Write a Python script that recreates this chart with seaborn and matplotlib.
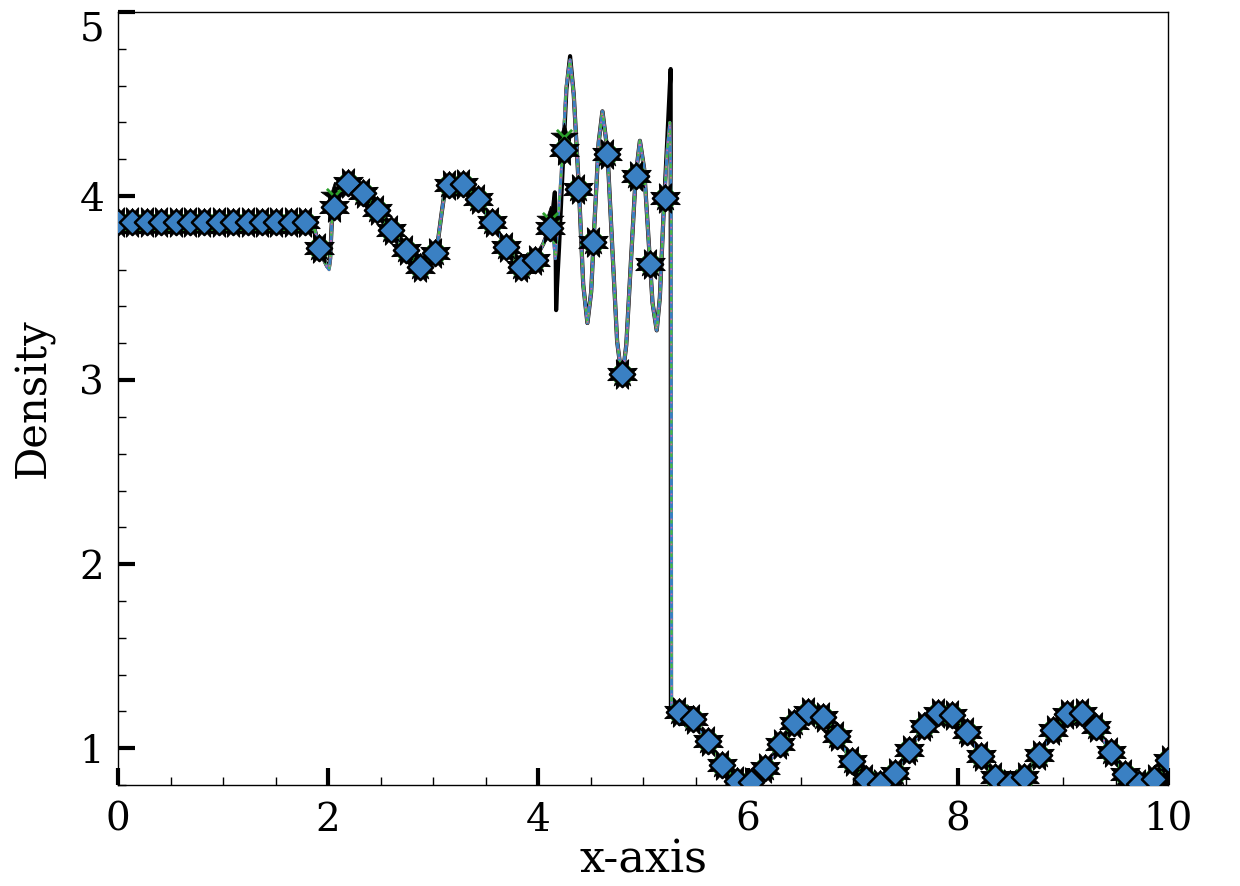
import numpy as np
import pandas as pd
import seaborn as sns
import matplotlib.pyplot as plt
from matplotlib.ticker import MultipleLocator

# reference solution (fine grid)
ref_x = [0.0, 1.80, 1.86, 1.918, 1.96, 1.99, 2.008, 2.02, 2.035, 2.055, 2.09, 2.14, 2.192, 2.25,
         2.329, 2.466, 2.603, 2.74, 2.877, 2.95, 3.014, 3.05, 3.08, 3.11, 3.151, 3.22, 3.288,
         3.425, 3.562, 3.699, 3.836, 3.90, 3.973, 4.05, 4.11, 4.14, 4.16, 4.165, 4.172, 4.18,
         4.20, 4.24, 4.27, 4.305, 4.34, 4.39, 4.43, 4.47, 4.506, 4.54, 4.577, 4.613, 4.66,
         4.706, 4.753, 4.80, 4.84, 4.885, 4.93, 4.97, 5.01, 5.05, 5.09, 5.13, 5.16, 5.195,
         5.23, 5.255, 5.263, 5.265, 5.333, 5.479, 5.616, 5.753, 5.89, 5.96, 6.027, 6.164,
         6.301, 6.438, 6.59, 6.712, 6.849, 6.986, 7.123, 7.22, 7.397, 7.534, 7.671, 7.85,
         7.945, 8.082, 8.219, 8.356, 8.48, 8.63, 8.767, 8.904, 9.041, 9.11, 9.178, 9.315,
         9.452, 9.589, 9.74, 9.863, 10.0]
ref_y = [3.857, 3.857, 3.845, 3.72, 3.655, 3.62, 3.61, 3.66, 3.85, 3.95, 4.02, 4.065, 4.078, 4.06,
         4.018, 3.924, 3.815, 3.707, 3.618, 3.625, 3.69, 3.77, 3.90, 4.02, 4.062, 4.078, 4.065,
         3.982, 3.86, 3.724, 3.616, 3.625, 3.66, 3.74, 3.83, 3.92, 4.02, 3.90, 3.38, 3.50,
         3.72, 4.22, 4.58, 4.76, 4.55, 4.03, 3.52, 3.31, 3.48, 3.885, 4.29, 4.46, 4.25,
         3.73, 3.21, 3.00, 3.19, 3.65, 4.11, 4.30, 4.15, 3.785, 3.42, 3.27, 3.45, 3.90,
         4.30, 4.60, 4.69, 1.20, 1.20, 1.156, 1.04, 0.908, 0.822, 0.80, 0.812, 0.89,
         1.022, 1.138, 1.20, 1.17, 1.065, 0.931, 0.83, 0.80, 0.866, 0.99, 1.12, 1.20,
         1.18, 1.089, 0.957, 0.844, 0.80, 0.844, 0.962, 1.098, 1.185, 1.20, 1.189, 1.116,
         0.98, 0.862, 0.80, 0.835, 0.935]

# scheme solution line (no spikes at 4.16 and 5.26)
sch_x = [0.0, 1.80, 1.86, 1.918, 1.96, 1.99, 2.01, 2.022, 2.035, 2.055, 2.09, 2.14, 2.192, 2.25,
         2.329, 2.466, 2.603, 2.74, 2.877, 2.95, 3.014, 3.05, 3.08, 3.11, 3.151, 3.22, 3.288,
         3.425, 3.562, 3.699, 3.836, 3.90, 3.973, 4.05, 4.11, 4.14, 4.165, 4.20, 4.24, 4.27,
         4.305, 4.34, 4.39, 4.43, 4.47, 4.506, 4.54, 4.577, 4.613, 4.66, 4.706, 4.753, 4.80,
         4.84, 4.885, 4.93, 4.97, 5.01, 5.05, 5.09, 5.13, 5.16, 5.195, 5.23, 5.255, 5.268,
         5.272, 5.333, 5.479, 5.616, 5.753, 5.89, 5.96, 6.027, 6.164, 6.301, 6.438, 6.59,
         6.712, 6.849, 6.986, 7.123, 7.22, 7.397, 7.534, 7.671, 7.85, 7.945, 8.082, 8.219,
         8.356, 8.48, 8.63, 8.767, 8.904, 9.041, 9.11, 9.178, 9.315, 9.452, 9.589, 9.74,
         9.863, 10.0]
sch_y = [3.857, 3.857, 3.845, 3.72, 3.655, 3.615, 3.60, 3.66, 3.85, 3.95, 4.02, 4.065, 4.078, 4.06,
         4.018, 3.924, 3.815, 3.707, 3.618, 3.625, 3.69, 3.77, 3.90, 4.02, 4.062, 4.078, 4.065,
         3.982, 3.86, 3.724, 3.616, 3.625, 3.66, 3.74, 3.83, 3.80, 3.66, 3.95, 4.30, 4.60,
         4.74, 4.55, 4.03, 3.52, 3.31, 3.48, 3.885, 4.29, 4.46, 4.25, 3.73, 3.21, 3.00,
         3.19, 3.65, 4.11, 4.30, 4.15, 3.785, 3.42, 3.27, 3.45, 3.90, 4.25, 4.40, 4.00,
         1.20, 1.20, 1.156, 1.04, 0.908, 0.822, 0.80, 0.812, 0.89, 1.022, 1.138, 1.20,
         1.17, 1.065, 0.931, 0.83, 0.80, 0.866, 0.99, 1.12, 1.20, 1.18, 1.089, 0.957,
         0.844, 0.80, 0.844, 0.962, 1.098, 1.185, 1.20, 1.189, 1.116, 0.98, 0.862, 0.80,
         0.835, 0.935]

# coarse-grid scheme values shown with markers
mk_x = [0.000, 0.137, 0.274, 0.411, 0.548, 0.685, 0.822, 0.959, 1.096, 1.233, 1.370, 1.507,
        1.644, 1.781, 1.918, 2.055, 2.192, 2.329, 2.466, 2.603, 2.740, 2.877, 3.014, 3.151,
        3.288, 3.425, 3.562, 3.699, 3.836, 3.973, 4.110, 4.247, 4.384, 4.521, 4.658, 4.795,
        4.932, 5.068, 5.205, 5.342, 5.479, 5.616, 5.753, 5.890, 6.027, 6.164, 6.301, 6.438,
        6.575, 6.712, 6.849, 6.986, 7.123, 7.260, 7.397, 7.534, 7.671, 7.808, 7.945, 8.082,
        8.219, 8.356, 8.493, 8.630, 8.767, 8.904, 9.041, 9.178, 9.315, 9.452, 9.589, 9.726,
        9.863, 10.000]
mk_y = [3.857, 3.857, 3.857, 3.857, 3.857, 3.857, 3.857, 3.857, 3.857, 3.857, 3.857, 3.857,
        3.857, 3.857, 3.717, 3.94, 4.072, 4.018, 3.924, 3.815, 3.707, 3.616, 3.692, 4.062,
        4.065, 3.982, 3.86, 3.724, 3.616, 3.655, 3.824, 4.25, 4.04, 3.752, 4.23, 3.035,
        4.11, 3.63, 3.988, 1.199, 1.156, 1.04, 0.908, 0.822, 0.817, 0.89, 1.022, 1.138,
        1.197, 1.17, 1.065, 0.931, 0.83, 0.808, 0.866, 0.991, 1.12, 1.192, 1.179, 1.089,
        0.957, 0.844, 0.804, 0.844, 0.962, 1.098, 1.185, 1.189, 1.116, 0.98, 0.862, 0.808,
        0.835, 0.935]
# other schemes' markers (same points, a bit higher in the oscillatory zone)
mk2_y = list(mk_y)
mk2_y[31] = 4.32
mk2_y[30] = 3.87
mk2_y[15] = 4.0

ref = pd.DataFrame({'x': ref_x, 'y': ref_y})
sch = pd.DataFrame({'x': sch_x, 'y': sch_y})
mk = pd.DataFrame({'x': mk_x, 'y': mk_y, 'y2': mk2_y})

plt.rcParams['font.family'] = ['DejaVu Serif']
fig = plt.figure(figsize=(12.4, 8.86), dpi=100)
ax = fig.add_axes([0.0952, 0.114, 0.8468, 0.8725])

sns.lineplot(data=ref, x='x', y='y', sort=False, estimator=None, color='black', lw=3, ax=ax)
sns.lineplot(data=sch, x='x', y='y', sort=False, estimator=None, color='#e8702a', lw=2.2, ax=ax)
sns.lineplot(data=sch, x='x', y='y', sort=False, estimator=None, color='#3a80c3', lw=2.2, ax=ax)
sns.lineplot(data=sch, x='x', y='y', sort=False, estimator=None, color='#4cbb3c', lw=1.6,
             linestyle=(0, (2, 3)), ax=ax)
sns.lineplot(data=sch, x='x', y='y', sort=False, estimator=None, color='#d663a8', lw=1.2,
             linestyle=(2, (1, 4)), ax=ax)

# spiky black halo from the other schemes' star / cross markers
sns.scatterplot(data=mk, x='x', y='y', marker=(8, 1, 22.5), s=520, color='black',
                edgecolor='black', linewidth=0.8, ax=ax, zorder=4)
sns.scatterplot(data=mk, x='x', y='y2', marker='*', s=420, color='black', edgecolor='black',
                linewidth=0.5, ax=ax, zorder=4)
sns.scatterplot(data=mk, x='x', y='y2', marker='x', s=120, color='#2ca02c', linewidth=2,
                ax=ax, zorder=5)
sns.scatterplot(data=mk, x='x', y='y', marker='D', s=165, color='#3a80c3', edgecolor='black',
                linewidth=1.8, ax=ax, zorder=6)

ax.set_xlim(0, 10)
ax.set_ylim(0.8, 5.0)
ax.xaxis.set_major_locator(MultipleLocator(2))
ax.xaxis.set_minor_locator(MultipleLocator(0.5))
ax.yaxis.set_major_locator(MultipleLocator(1))
ax.yaxis.set_minor_locator(MultipleLocator(0.2))
ax.tick_params(which='major', direction='in', length=12, width=3, labelsize=28, pad=12,
               top=False, right=False)
ax.tick_params(which='minor', direction='in', length=6, width=1, top=False, right=False)
ax.tick_params(axis='y', which='major', pad=10)
for s in ax.spines.values():
    s.set_linewidth(1.0)

ax.set_xlabel('x-axis', fontsize=32, labelpad=0)
ax.set_ylabel('Density', fontsize=30, labelpad=18)

# top label sits below its tick so it stays inside the figure
fig.canvas.draw()
for lab in ax.get_yticklabels():
    if lab.get_text() == '5':
        lab.set_verticalalignment('top')

fig.savefig('out.png', dpi=100)
